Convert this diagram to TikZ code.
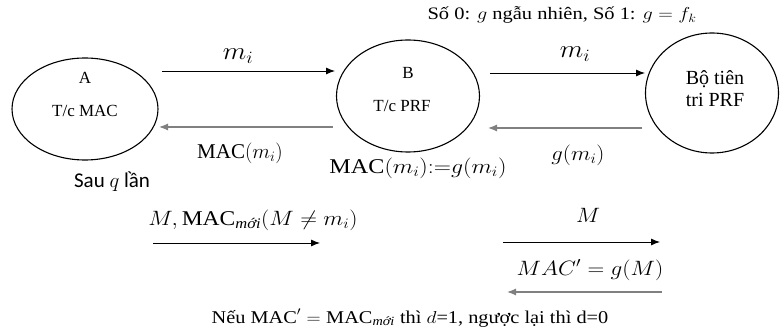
\documentclass[tikz,border=0pt]{standalone}
\usepackage{amsmath}
\usepackage{graphicx}
\usepackage{fontspec}
\setmainfont{Liberation Serif}
\newfontfamily\sansf{Carlito}
\usetikzlibrary{arrows.meta,shapes.geometric}
\newcommand\hwide[2]{\scalebox{#1}[1]{#2}}
\newcommand\macw{\text{\normalfont MAC}}
\tikzset{
  ell/.style={draw=black, line width=1.1pt, ellipse, inner sep=0pt},
  txt/.style={inner sep=0pt, font=\fontsize{17}{19}\selectfont},
  lbl/.style={inner sep=0pt, font=\fontsize{21}{23}\selectfont},
  fwd/.style={draw=black, line width=0.9pt, -{Latex[length=9pt,width=7pt]}},
  bwd/.style={draw=black!50, line width=1.2pt, -{Latex[length=9pt,width=7pt]}},
}
\begin{document}
\begin{tikzpicture}[x=1pt,y=-1pt]
\useasboundingbox (0,0) rectangle (780,334);
% ellipses
\node[ell, minimum width=146pt, minimum height=102pt] (A) at (85,109) {};
\node[ell, minimum width=143pt, minimum height=112pt] (B) at (408,96) {};
\node[ell, minimum width=133pt, minimum height=120pt] (C) at (712,93) {};
% ellipse texts
\node[txt] (Aname) at (85,78) {A};
\node[txt] (Arole) at (85,111) {T/c MAC};
\node[txt] (Bname) at (408,73) {B};
\node[txt] (Brole) at (402,106) {T/c PRF};
\node[txt, font=\fontsize{20}{22}\selectfont, align=center] (Cname) at (715,89) {Bộ tiên\\tri PRF};
% title
\node[txt, font=\fontsize{17.5}{20}\selectfont] (title) at (562,15) {\hwide{1.17}{Số 0: $g$ ngẫu nhiên, Số 1: $g = f_k$}};
% arrow endpoints
\coordinate (ab1) at (162,71);
\coordinate (ab2) at (335,71);
\coordinate (ba1) at (333,127);
\coordinate (ba2) at (159,127);
\coordinate (bc1) at (490,73);
\coordinate (bc2) at (645,73);
\coordinate (cb1) at (642,128);
\coordinate (cb2) at (488,128);
\coordinate (m1) at (153,243);
\coordinate (m2) at (320,243);
\coordinate (n1) at (503,242);
\coordinate (n2) at (660,242);
\coordinate (r1) at (662,292);
\coordinate (r2) at (507,292);
% arrows
\draw[fwd] (ab1) -- (ab2);
\draw[bwd] (ba1) -- (ba2);
\draw[fwd] (bc1) -- (bc2);
\draw[bwd] (cb1) -- (cb2);
\draw[fwd] (m1) -- (m2);
\draw[fwd] (n1) -- (n2);
\draw[bwd] (r1) -- (r2);
% labels
\node[lbl, font=\fontsize{23}{25}\selectfont] (l1) at (238,56) {\hwide{1.1}{$m_i$}};
\node[lbl] (l2) at (240,153) {$\macw(m_i)$};
\node[lbl, font=\fontsize{23}{25}\selectfont] (l3) at (575,54) {\hwide{1.1}{$m_i$}};
\node[lbl] (l4) at (578,155) {\hwide{1.1}{$g(m_i)$}};
\node[lbl] (l5) at (418,168) {\hwide{1.15}{$\macw(m_i){:}{=}g(m_i)$}};
\node[lbl, font=\fontsize{21}{23}\sansf] (l6) at (112,182) {Sau $q$ lần};
\node[lbl] (l7) at (253,220) {\hwide{1.12}{$M,\macw_{\text{\itshape mới}}(M\neq m_i)$}};
\node[lbl] (l8) at (588,215) {\hwide{1.1}{$M$}};
\node[lbl] (l9) at (590,270) {\hwide{1.12}{$MAC' = g(M)$}};
\node[txt, font=\fontsize{18}{20}\selectfont] (l10) at (410,318) {\hwide{1.13}{Nếu $\macw' = \macw_{\text{\itshape mới}}$ thì $d$=1, ngược lại thì d=0}};
\end{tikzpicture}
\end{document}
